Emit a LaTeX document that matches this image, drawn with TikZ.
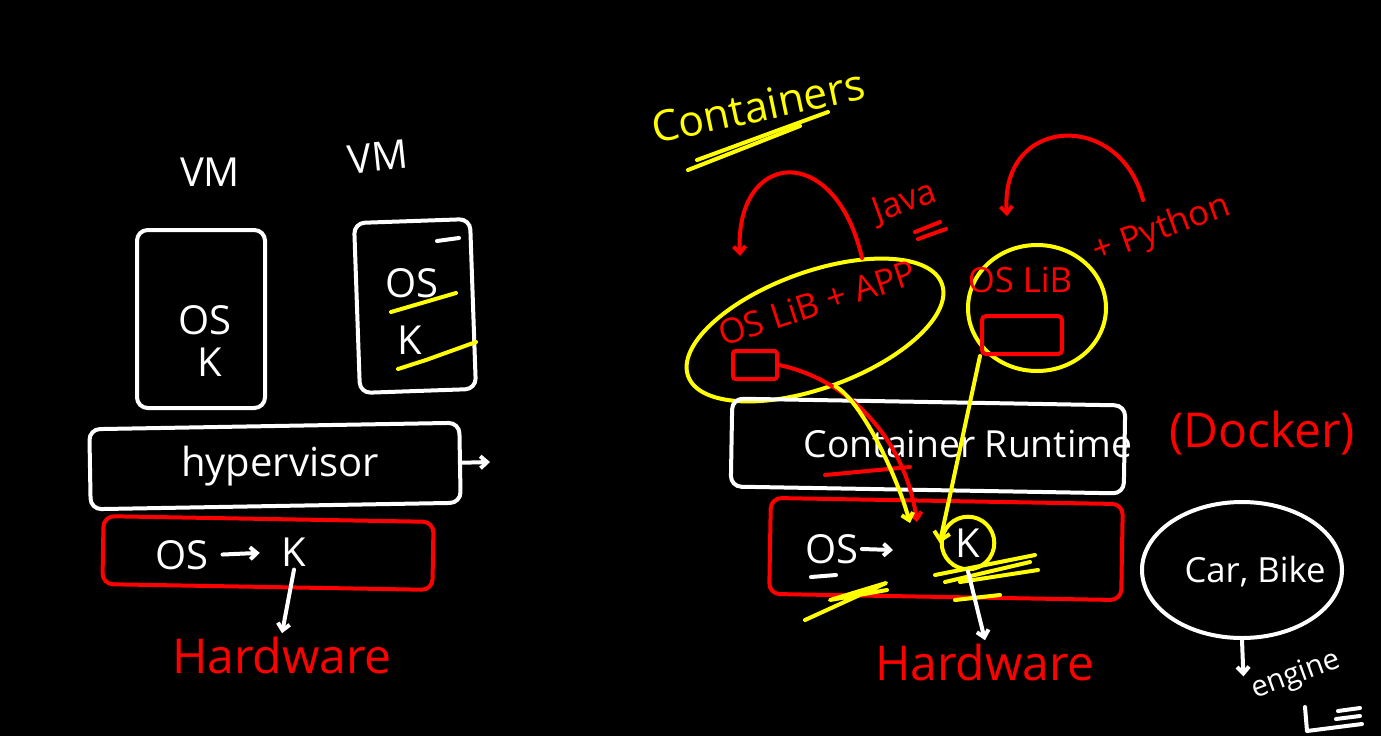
\documentclass[tikz,border=0pt]{standalone}
\usepackage{fontspec}
\setmainfont{Open Sans}
\usetikzlibrary{arrows.meta,shapes.geometric,positioning}

\definecolor{inkred}{RGB}{255,0,0}
\definecolor{inkyellow}{RGB}{255,255,0}

\tikzset{every picture/.style={line width=3pt},
  wline/.style={white,line cap=round,line join=round},
  rline/.style={inkred,line cap=round,line join=round},
  yline/.style={inkyellow,line cap=round,line join=round},
  wbox/.style={draw=white,rounded corners=8pt,inner sep=0pt},
  rbox/.style={draw=inkred,rounded corners=8pt,inner sep=0pt},
  wtext/.style={text=white,font=\fontsize{30}{34}\selectfont,inner sep=1pt},
  rtext/.style={text=inkred,font=\fontsize{30}{34}\selectfont,inner sep=1pt},
  ytext/.style={text=inkyellow,font=\fontsize{32}{36}\selectfont,inner sep=1pt},
  hook/.style={-{Straight Barb[length=5pt,width=9pt]}}
}

\begin{document}
\begin{tikzpicture}[x=0.75pt,y=0.75pt,yscale=-1,xscale=1]
	\fill[black] (0,0) rectangle (1381,736);
	\useasboundingbox (0,0) rectangle (1381,736);

	%% left half: virtual machines
	% Text Node
	\node[wtext] (vmLabelA) at (210,172) {VM};
	\node[wtext,rotate=6] (vmLabelB) at (378,157) {VM};
	%Shape: Rectangle
	\node[wbox,minimum width=0.75*128pt,minimum height=0.75*178pt] (vmA) at (201,319) {};
	\node[wbox,rotate=2,minimum width=0.75*116pt,minimum height=0.75*170pt] (vmB) at (415,306) {};
	% Text Node
	\node[wtext] (osA) at (205,320) {OS};
	\node[wtext] (kA) at (210,362) {K};
	\node[wtext] (osB) at (412,283) {OS};
	\node[wtext] (kB) at (410,340) {K};
	\draw[wline] (437,241) -- (459,238);
	\draw[yline] (391,312) -- (456,293);
	\draw[yline] (398,369) -- (426,360) -- (476,342);
	%Shape: Rectangle
	\node[wbox,rotate=1,minimum width=0.75*370pt,minimum height=0.75*80pt] (hyp) at (275,466) {};
	\node[wtext] (hypText) at (280,466) {hypervisor};
	\coordinate (hypOut) at (490,462);
	\draw[wline,hook] (hyp.east) -- (hypOut);
	%Shape: Rectangle
	\node[rbox,rotate=-1,minimum width=0.75*330pt,minimum height=0.75*68pt] (hostA) at (268,553) {};
	\node[wtext] (osH) at (182,555) {OS};
	\node[wtext] (kH) at (294,552) {K};
	\draw[wline,hook,shorten <=8pt,shorten >=14pt] (osH.east) -- (kH.west);
	\node[rtext,font=\fontsize{36}{40}\selectfont] (hwA) at (282,655) {Hardware};
	\draw[wline,hook] (kH.south) -- (hwA.north);

	%% right half: containers
	\node[ytext,rotate=12] (title) at (758,106) {Containers};
	\draw[yline] (697,160) -- (828,112);
	\draw[yline] (688,170) -- (800,126);
	% Text Node
	\node[rtext,rotate=20,font=\fontsize{26}{30}\selectfont] (java) at (905,203) {Java};
	\draw[rline] (915,232) -- (940,222);
	\draw[rline] (918,239) -- (946,229);
	%Shape: Ellipse
	\node[draw=inkyellow,ellipse,rotate=20,minimum width=0.75*270pt,minimum height=0.75*116pt,inner sep=0pt] (ellA) at (815,330) {};
	\node[rtext,rotate=18,font=\fontsize{26}{30}\selectfont] (libA) at (817,303) {OS LiB + APP};
	\node[rbox,rounded corners=2pt,minimum width=0.75*44pt,minimum height=0.75*28pt] (appA) at (755,365) {};
	\node[draw=inkyellow,ellipse,minimum width=0.75*138pt,minimum height=0.75*126pt,inner sep=0pt] (ellB) at (1037,308) {};
	\node[rtext,font=\fontsize{26}{30}\selectfont] (libB) at (1020,280) {OS LiB};
	\node[rtext,rotate=20,font=\fontsize{26}{30}\selectfont] (python) at (1162,230) {+ Python};
	\node[rbox,rounded corners=3pt,minimum width=0.75*80pt,minimum height=0.75*38pt] (pyBox) at (1022,335) {};
	% red loops
	\coordinate (javaOut) at (862,258);
	\coordinate (javaIn) at (740,256);
	\coordinate (pyOut) at (1143,200);
	\coordinate (pyIn) at (1007,216);
	\draw[rline,hook] (javaOut) .. controls (835,140) and (735,150) .. (javaIn);
	\draw[rline,hook] (pyOut) .. controls (1120,110) and (1000,115) .. (pyIn);
	%Shape: Rectangle
	\node[wbox,rotate=-1,minimum width=0.75*393pt,minimum height=0.75*88pt] (rt) at (928,446) {};
	\node[wtext,font=\fontsize{28}{32}\selectfont] (rtText) at (968,444) {Container Runtime};
	\draw[rline] (825,475) -- (910,467);
	\node[rtext,font=\fontsize{36}{40}\selectfont] (docker) at (1262,433) {(Docker)};
	%Shape: Rectangle
	\node[rbox,rotate=-1,minimum width=0.75*352pt,minimum height=0.75*96pt] (hostB) at (946,549) {};
	\node[wtext] (osR) at (832,549) {OS};
	\draw[wline] (811,577) -- (836,575);
	\node[wtext,draw=inkyellow,circle,inner sep=4pt] (kR) at (968,543) {K};
	\coordinate (osArrow) at (893,550);
	\draw[wline,hook] (osR.east) -- (osArrow);
	% links from the containers to the kernel
	\draw[rline,hook] (appA.east) .. controls (850,380) and (905,440) .. (917,522);
	\draw[yline,hook] (ellA.south) .. controls (860,400) and (895,470) .. (910,523);
	\draw[yline,-{Straight Barb[length=6pt,width=12pt]}] (pyBox.south west) -- (kR.west);
	% scribbles
	\draw[yline] (935,575) -- (1035,555);
	\draw[yline] (945,582) -- (1030,562);
	\draw[yline] (960,582) -- (1038,570);
	\draw[yline] (805,620) -- (886,583) -- (830,600) -- (887,590);
	\draw[yline] (955,600) -- (1000,595);
	\node[rtext,font=\fontsize{36}{40}\selectfont] (hwB) at (985,662) {Hardware};
	\draw[wline,hook] (kR.south) -- (hwB.north);
	%Shape: Ellipse
	\node[draw=white,ellipse,minimum width=0.75*200pt,minimum height=0.75*136pt,inner sep=0pt] (carB) at (1242,570) {};
	\node[wtext,font=\fontsize{26}{30}\selectfont] (carText) at (1255,572) {Car, Bike};
	\node[wtext,rotate=20,font=\fontsize{22}{26}\selectfont] (engine) at (1296,676) {engine};
	\draw[wline,hook] (carB.south) -- (engine.north west);
	\draw[wline] (1305,707) -- (1307,731) -- (1362,724);
	\draw[wline] (1338,711) -- (1360,708);
	\draw[wline] (1336,719) -- (1360,716);

\end{tikzpicture}
\end{document}
